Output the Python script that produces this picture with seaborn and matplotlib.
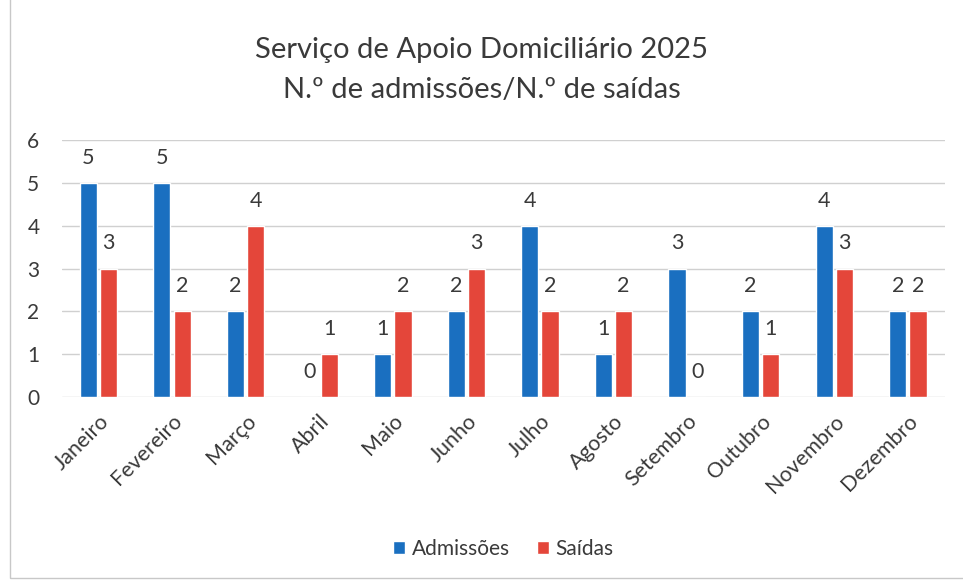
import pandas as pd
import matplotlib.pyplot as plt
import seaborn as sb
from matplotlib.patches import Rectangle

meses = ['Janeiro', 'Fevereiro', 'Março', 'Abril', 'Maio', 'Junho', 'Julho',
         'Agosto', 'Setembro', 'Outubro', 'Novembro', 'Dezembro']
admissoes = [5, 5, 2, 0, 1, 2, 4, 1, 3, 2, 4, 2]
saidas = [3, 2, 4, 1, 2, 3, 2, 2, 0, 1, 3, 2]

df = pd.DataFrame({
    'mes': meses * 2,
    'valor': admissoes + saidas,
    'serie': ['Admissões'] * len(meses) + ['Saídas'] * len(meses),
})

sb.set_style('white')
plt.rcParams['font.family'] = ['Lato', 'DejaVu Sans']
cor_txt = '#3a3a3a'

fig = plt.figure(figsize=(9.63, 5.84), dpi=100)
ax = fig.add_axes([0.064, 0.320, 0.917, 0.440])

sb.barplot(data=df, x='mes', y='valor', hue='serie', order=meses,
           palette=['#1a6fc0', '#e4463a'], width=0.55, gap=0.15,
           saturation=1, ax=ax)

ax.set_ylim(0, 6)
ax.set_yticks(range(7))
ax.grid(axis='y', color='#d0d0d0', linewidth=1)
ax.set_axisbelow(True)
for s in ax.spines.values():
    s.set_visible(False)
ax.set_xlabel('')
ax.set_ylabel('')
ax.tick_params(axis='y', labelsize=15, labelcolor=cor_txt, length=0, pad=16)
ax.tick_params(axis='x', labelsize=15.5, labelcolor=cor_txt, length=0, pad=10)
plt.setp(ax.get_xticklabels(), rotation=45, ha='right', rotation_mode='anchor')

for cont in ax.containers:
    ax.bar_label(cont, padding=11, fontsize=15.5, color=cor_txt)

ax.legend(loc='center', bbox_to_anchor=(0.5, -0.59), ncol=2, frameon=False,
          fontsize=15, handlelength=0.6, handleheight=0.6, columnspacing=1.3,
          handletextpad=0.3, labelcolor=cor_txt)

fig.text(0.5, 0.914, 'Serviço de Apoio Domiciliário 2025', ha='center', va='center',
         fontsize=21, color=cor_txt)
fig.text(0.5, 0.846, 'N.º de admissões/N.º de saídas', ha='center', va='center',
         fontsize=21, color=cor_txt)

fig.patches.append(Rectangle((0.010, 0.010), 1.2, 1.2, transform=fig.transFigure,
                             fill=False, edgecolor='#c8c8c8', linewidth=1))

plt.savefig('out.png', dpi=100)
